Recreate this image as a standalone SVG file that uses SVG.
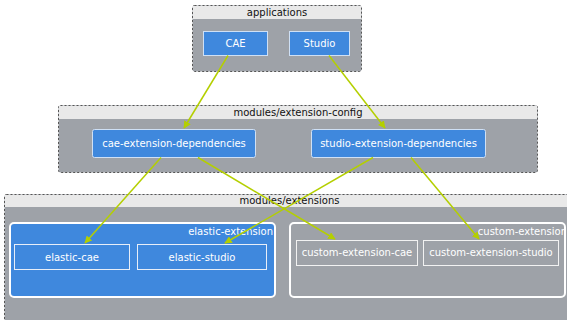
<svg xmlns="http://www.w3.org/2000/svg" width="567" height="320" viewBox="0 0 567 320">
<style>
.cont{fill:#9ea2a8;stroke:#555;stroke-width:1;stroke-dasharray:2,2}
.hdr{fill:#e9e9e9}
.title{font-family:"DejaVu Sans",sans-serif;font-size:10px;fill:#111;text-anchor:middle}
.node{fill:#3f88dd;stroke:#cfe0f5;stroke-width:1}
.lbl{font-family:"DejaVu Sans",sans-serif;font-size:10px;fill:#fff;text-anchor:middle}
.grp{stroke:#fff;stroke-width:2}
.glbl{font-family:"DejaVu Sans",sans-serif;font-size:10px;fill:#fff;text-anchor:end}
.inb{fill:#3f88dd;stroke:#e8eef8;stroke-width:1}
.ing{fill:#9ea2a8;stroke:#f2f2f2;stroke-width:1}
.edge{stroke:#b4cf00;stroke-width:1.5;fill:none;marker-end:url(#ah)}
</style>
<defs>
<marker id="ah" viewBox="0 0 10 10" refX="9" refY="5" markerWidth="5" markerHeight="5" orient="auto" markerUnits="strokeWidth">
<path d="M0,0 L10,5 L0,10 z" fill="#b4cf00"/>
</marker>
<clipPath id="cc"><rect x="290" y="223" width="275" height="74" rx="4"/></clipPath>
<clipPath id="ce"><rect x="10" y="223" width="265" height="74" rx="4"/></clipPath>
</defs>

<g id="applications">
<rect class="cont" x="192.5" y="5.5" width="169" height="66" rx="2"/>
<rect class="hdr" x="193" y="6" width="168" height="13"/>
<text class="title" x="277" y="16">applications</text>
</g>
<g id="cae">
<rect class="node" x="203.5" y="31.5" width="64" height="24"/>
<text class="lbl" x="235.5" y="47">CAE</text>
</g>
<g id="studio">
<rect class="node" x="289.5" y="31.5" width="60" height="24"/>
<text class="lbl" x="319.5" y="47">Studio</text>
</g>

<g id="extension-config">
<rect class="cont" x="58.5" y="105.5" width="479" height="67" rx="2"/>
<rect class="hdr" x="59" y="106" width="478" height="13"/>
<text class="title" x="298" y="116">modules/extension-config</text>
</g>
<g id="cae-extension-dependencies">
<rect class="node" x="92.5" y="129.5" width="163" height="28" rx="2"/>
<text class="lbl" x="174" y="147">cae-extension-dependencies</text>
</g>
<g id="studio-extension-dependencies">
<rect class="node" x="311.5" y="129.5" width="174" height="28" rx="2"/>
<text class="lbl" x="398.5" y="147">studio-extension-dependencies</text>
</g>

<g id="extensions">
<rect class="cont" x="4.5" y="194.5" width="571" height="130" rx="2"/>
<rect class="hdr" x="5" y="195" width="570" height="12"/>
<text class="title" x="289.5" y="204">modules/extensions</text>
</g>
<g id="elastic-extension">
<rect class="grp" x="10" y="223" width="265" height="74" rx="4" fill="#3f88dd"/>
<text class="glbl" x="273" y="235" clip-path="url(#ce)">elastic-extension</text>
</g>
<g id="elastic-cae">
<rect class="inb" x="14.5" y="244.5" width="115" height="25"/>
<text class="lbl" x="72" y="260.5">elastic-cae</text>
</g>
<g id="elastic-studio">
<rect class="inb" x="137.5" y="244.5" width="129" height="25"/>
<text class="lbl" x="202" y="260.5">elastic-studio</text>
</g>
<g id="custom-extension">
<rect class="grp" x="290" y="223" width="275" height="74" rx="4" fill="#9ea2a8"/>
<text class="glbl" x="567" y="234.5" clip-path="url(#cc)">custom-extension</text>
</g>
<g id="custom-extension-cae">
<rect class="ing" x="296.5" y="240.5" width="121" height="25"/>
<text class="lbl" x="357" y="256">custom-extension-cae</text>
</g>
<g id="custom-extension-studio">
<rect class="ing" x="423.5" y="240.5" width="135" height="25"/>
<text class="lbl" x="491" y="256">custom-extension-studio</text>
</g>

<g id="connectors">
<line class="edge" x1="228" y1="55.5" x2="184" y2="128"/>
<line class="edge" x1="329" y1="55.5" x2="385" y2="128"/>
<line class="edge" x1="161" y1="157.5" x2="85" y2="243"/>
<line class="edge" x1="198" y1="157.5" x2="335" y2="239"/>
<line class="edge" x1="373" y1="157.5" x2="225" y2="243"/>
<line class="edge" x1="411" y1="157.5" x2="479" y2="239"/>
</g>
</svg>
